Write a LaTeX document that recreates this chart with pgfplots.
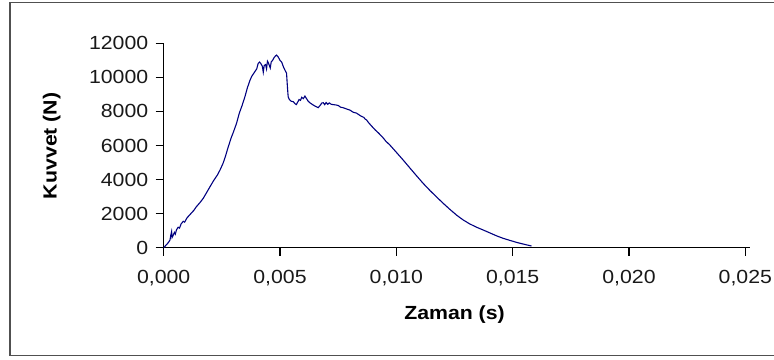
\documentclass[border=0pt]{standalone}
\usepackage{fontspec}
\setmainfont{Liberation Sans}[FakeStretch=1.12]
\usepackage{pgfplots}
\pgfplotsset{compat=1.18}
\definecolor{curve}{RGB}{0,0,128}
\definecolor{framegray}{RGB}{80,80,80}

\begin{document}
\begin{tikzpicture}
% chart area border (its right side lies past the page edge)
\draw[framegray, line width=1.5bp] (800bp,357.3bp) -- (10bp,357.3bp) -- (10bp,4.3bp) -- (800bp,4.3bp);
\begin{axis}[
  at={(163.7bp,112.3bp)}, anchor=south west,
  scale only axis, width=586.3bp, height=204.4bp,
  xmin=0, xmax=0.0252, ymin=0, ymax=12000,
  scaled ticks=false,
  axis x line*=bottom, axis y line*=left,
  axis line style={-, line width=1.2bp, black},
  tick align=outside, major tick length=8bp,
  tick style={line width=1.1bp, black},
  xtick={0,0.005,0.010,0.015,0.020,0.025},
  xticklabels={{0,000},{0,005},{0,010},{0,015},{0,020},{0,025}},
  ytick={0,2000,4000,6000,8000,10000,12000},
  yticklabels={0,2000,4000,6000,8000,10000,12000},
  tick label style={font=\fontsize{19bp}{22bp}\selectfont, text=black!90},
  xticklabel style={yshift=-11bp},
  yticklabel style={xshift=-4bp},
  clip=false,
]
\addplot[curve, line width=1.1bp] coordinates {
(0,0) (0.00010,150) (0.00020,300) (0.00027,450) (0.00030,700) (0.00034,950)
(0.00036,600) (0.00040,700) (0.00046,900) (0.00050,800) (0.00055,1050)
(0.00062,1200) (0.00068,1150) (0.00075,1400) (0.00084,1550) (0.00090,1500)
(0.00100,1750) (0.00110,1900) (0.00120,2050) (0.00130,2200) (0.00140,2400)
(0.00156,2650) (0.00170,2900) (0.00185,3250) (0.00199,3580) (0.00215,3950)
(0.00230,4250) (0.00242,4560) (0.00255,4950) (0.00265,5350) (0.00277,5900)
(0.00290,6450) (0.00300,6800) (0.00313,7300) (0.00325,7900) (0.00337,8350)
(0.00349,8860) (0.00360,9400) (0.00370,9800) (0.00378,10050) (0.00390,10300)
(0.00400,10500) (0.00406,10820) (0.00412,10900) (0.00418,10800) (0.00424,10650)
(0.00428,10300) (0.00432,10700) (0.00438,10750) (0.00442,10500) (0.00446,10950)
(0.00450,10850) (0.00454,10700) (0.00458,10550) (0.00462,10900) (0.00468,11000)
(0.00474,11150) (0.00480,11250) (0.00485,11310) (0.00492,11200) (0.00500,11000)
(0.00507,10900) (0.00515,10600) (0.00522,10400) (0.00528,10240) (0.00532,9400)
(0.00535,8860) (0.00540,8700) (0.00548,8600) (0.00557,8570) (0.00565,8450)
(0.00570,8400) (0.00576,8550) (0.00582,8700) (0.00588,8650) (0.00593,8830)
(0.00600,8750) (0.00607,8900) (0.00614,8750) (0.00621,8600) (0.00628,8510)
(0.00640,8400) (0.00652,8300) (0.00664,8220) (0.00672,8350) (0.00680,8500)
(0.00686,8510) (0.00692,8400) (0.00698,8520) (0.00705,8420) (0.00712,8500)
(0.00720,8420) (0.00729,8400) (0.00740,8380) (0.00750,8350) (0.00760,8250)
(0.00771,8220) (0.00785,8150) (0.00800,8080) (0.00815,7950) (0.00829,7900)
(0.00845,7750) (0.00860,7650) (0.00866,7550) (0.00872,7500) (0.00880,7350)
(0.00895,7120) (0.00910,6900) (0.00922,6750) (0.00940,6500) (0.00955,6250)
(0.00972,6030) (0.01000,5600) (0.01029,5150) (0.01060,4650) (0.01085,4250)
(0.01115,3780) (0.01145,3350) (0.01175,2950) (0.01201,2610) (0.01230,2250)
(0.01260,1900) (0.01287,1630) (0.01315,1400) (0.01345,1200) (0.01373,1040)
(0.01400,880) (0.01430,700) (0.01459,550) (0.01490,420) (0.01520,300)
(0.01545,215) (0.01565,150) (0.01581,100)
};
\end{axis}
\node[font=\bfseries\fontsize{19bp}{22bp}\selectfont] at (454.5bp,45bp) {Zaman (s)};
\node[font=\bfseries\fontsize{19bp}{22bp}\selectfont, rotate=90] at (51.7bp,214.2bp) {Kuvvet (N)};
\pgfresetboundingbox
\path[use as bounding box] (0,0) rectangle (774bp,360bp);
\end{tikzpicture}
\end{document}
